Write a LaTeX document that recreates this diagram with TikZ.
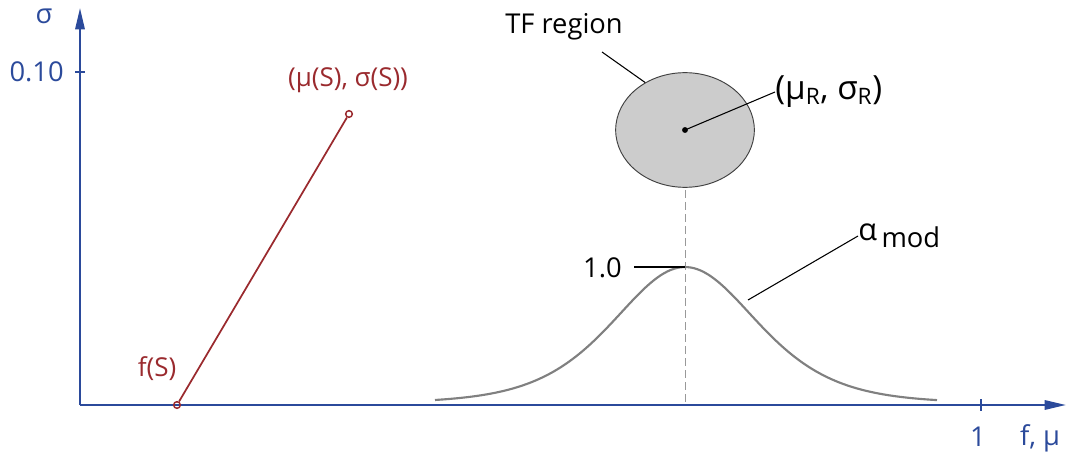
\documentclass[tikz,border=0pt]{standalone}
\usepackage{fontspec}
\setmainfont{Open Sans}
\usetikzlibrary{arrows.meta,shapes.geometric}
\definecolor{axisblue}{HTML}{2B4A9B}
\definecolor{darkred}{HTML}{9A2A2E}
\definecolor{curvegray}{HTML}{808080}
\definecolor{regionfill}{HTML}{CCCCCC}
\tikzset{
  axis/.style={draw=axisblue, line width=1.6pt, -{Triangle[length=16pt,width=7pt]}},
  tick/.style={draw=axisblue, line width=1.1pt},
  axlabel/.style={text=axisblue, font=\fontsize{20.5}{22}\selectfont, inner sep=0pt},
  redlabel/.style={text=darkred, font=\fontsize{19.5}{21}\selectfont, inner sep=0pt},
  blacklabel/.style={text=black, font=\fontsize{20.5}{22}\selectfont, inner sep=0pt},
  endpt/.style={circle, draw=darkred, line width=1.1pt, inner sep=0pt, minimum size=5pt},
  leader/.style={draw=black, line width=0.8pt},
}
\begin{document}
\begin{tikzpicture}[x=0.75pt,y=-0.75pt]
\useasboundingbox (0,0) rectangle (1067,456);
% axes
\coordinate (O) at (80,405);
\coordinate (ytip) at (80,8);
\coordinate (xtip) at (1066,405);
\draw[axis] (O) -- (ytip);
\draw[axis] (O) -- (xtip);
\draw[tick] (75,72) -- (85,72);
\draw[tick] (981,399) -- (981,411);
\node[axlabel] (sig) at (44,16) {σ};
\node[axlabel, anchor=east] (y010) at (64,72) {0.10};
\node[axlabel] (x1) at (978,437) {1};
\node[axlabel] (fmu) at (1040,438) {f, μ};
% dashed center line
\draw[draw=curvegray!80, dashed, dash pattern=on 6pt off 3pt, line width=0.6pt] (685,130) -- (685,405);
% bell curve
\draw[draw=curvegray, line width=1.6pt, domain=435:937, samples=150, smooth]
  plot (\x, {403 - 136/(cosh((\x-685)/96.5)^2)});
% TF region ellipse
\node[ellipse, draw=black!75, line width=0.7pt, fill=regionfill, minimum width=104pt, minimum height=86pt, inner sep=0pt] (tf) at (685,130) {};
\fill (685,130) circle (2.2pt);
\coordinate (tfc) at (685,130);
\node[blacklabel, font=\fontsize{25}{27}\selectfont, anchor=west] (muR) at (775,92) {(μ\textsubscript{\fontsize{17}{17}\selectfont R}, σ\textsubscript{\fontsize{17}{17}\selectfont R})};
\draw[leader] (tfc) -- (muR.west);
\node[blacklabel] (tflabel) at (564,27) {TF region};
\coordinate (tfl) at (602,52);
\draw[leader] (tfl) -- (tf.130);
% peak label
\node[blacklabel, anchor=east] (one) at (622,268) {1.0};
\coordinate (peak) at (685,267);
\coordinate (onel) at (634,267);
\draw[leader] (onel) -- (peak);
% alpha mod
\node[blacklabel, anchor=west] (amod) at (858,236) {\raisebox{5pt}{\fontsize{23}{23}\selectfont α}\,mod};
\coordinate (ac) at (748,300);
\draw[leader] (ac) -- (amod.west);
% red line
\node[endpt] (s0) at (177,405) {};
\node[endpt] (s1) at (349,114) {};
\draw[draw=darkred, line width=1.3pt] (s0) -- (s1);
\node[redlabel] (fS) at (157,369) {f(S)};
\node[redlabel] (muS) at (348,80) {(μ(S), σ(S))};
\end{tikzpicture}
\end{document}
